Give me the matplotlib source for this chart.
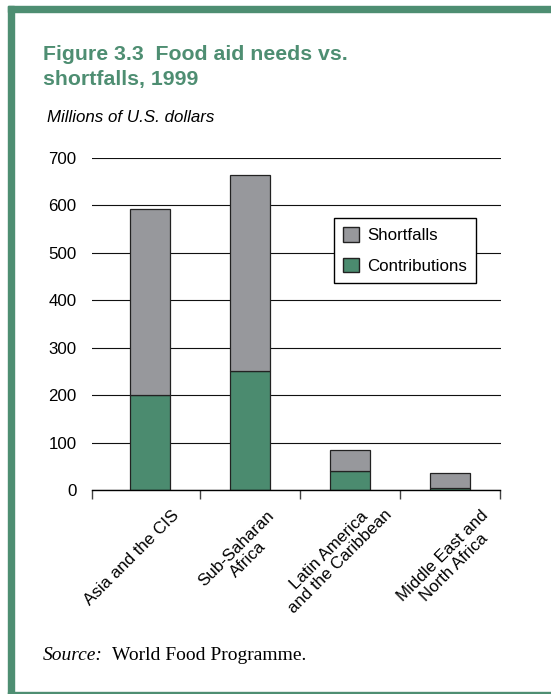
import matplotlib.pyplot as plt
from matplotlib.patches import Rectangle, Patch
from matplotlib.transforms import ScaledTranslation

regions = ['Asia and the CIS', 'Sub-Saharan\nAfrica',
           'Latin America\nand the Caribbean', 'Middle East and\nNorth Africa']
contributions = [200, 250, 40, 5]
shortfalls = [393, 415, 45, 30]

GREEN = '#4e8e72'
BAR_GREEN = '#4b8b6f'
GRAY = '#97989c'

plt.rcParams['font.family'] = ['Liberation Sans', 'DejaVu Sans']

W, H = 551, 694
fig = plt.figure(figsize=(W / 100, H / 100), dpi=100)

# green frame
fig.patches.append(Rectangle((8 / W, 0), 6 / W, (H - 6) / H, transform=fig.transFigure,
                             color=GREEN, zorder=0))
fig.patches.append(Rectangle((8 / W, (H - 12) / H), (W - 8) / W, 6 / H,
                             transform=fig.transFigure, color=GREEN, zorder=0))
fig.patches.append(Rectangle((8 / W, 0), (W - 8) / W, 2.5 / H,
                             transform=fig.transFigure, color=GREEN, zorder=0))

fig.text(43 / W, 1 - 60 / H, 'Figure 3.3  Food aid needs vs.', color=GREEN,
         fontsize=15.3, fontweight='bold', va='baseline', ha='left')
fig.text(43 / W, 1 - 85 / H, 'shortfalls, 1999', color=GREEN,
         fontsize=15.3, fontweight='bold', va='baseline', ha='left')
fig.text(47 / W, 1 - 117 / H, 'Millions of U.S. dollars', fontsize=12.2,
         style='italic', va='center', ha='left')
fig.text(43 / W, 1 - 660 / H, 'Source:', fontsize=14, style='italic',
         family='Liberation Serif', va='baseline', ha='left')
fig.text(112 / W, 1 - 660 / H, 'World Food Programme.', fontsize=14,
         family='Liberation Serif', va='baseline', ha='left')

ax = fig.add_axes([92 / W, (H - 490) / H, 408.5 / W, 332 / H])
x = range(len(regions))
ax.bar(x, contributions, width=0.4, color=BAR_GREEN, edgecolor='#222222',
       linewidth=0.9, zorder=2)
ax.bar(x, shortfalls, bottom=contributions, width=0.4, color=GRAY,
       edgecolor='#222222', linewidth=0.9, zorder=2)

ax.set_xlim(-0.575, 3.5)
ax.set_ylim(0, 700)
ax.set_yticks(range(0, 701, 100))
ax.yaxis.grid(True, color='#111111', linewidth=0.8)
ax.set_axisbelow(True)
for s in ['top', 'right', 'left']:
    ax.spines[s].set_visible(False)
ax.spines['bottom'].set_linewidth(1.0)
ax.tick_params(axis='y', length=0, pad=11, labelsize=12.2)
ax.set_xticks([-0.575, 0.5, 1.5, 2.5, 3.5])
ax.set_xticklabels([])
ax.tick_params(axis='x', length=6.5, width=1, color='#444444')

# rotated category labels, anchored at the top-right of each text block
label_dx = [22, 17, 23, 30]
label_dy = [-18, -18, -6, -18]
for i, name in enumerate(regions):
    off = ScaledTranslation(label_dx[i] / 100, label_dy[i] / 100, fig.dpi_scale_trans)
    ax.text(i, 0, name, transform=ax.get_xaxis_transform() + off,
            rotation=45, rotation_mode='anchor', ha='right', va='top',
            multialignment='center', fontsize=12.2, linespacing=1.05)

handles = [Patch(facecolor=GRAY, edgecolor='#222222', label='Shortfalls'),
           Patch(facecolor=BAR_GREEN, edgecolor='#222222', label='Contributions')]
leg = fig.legend(handles=handles, loc='upper left', borderaxespad=0,
                 bbox_to_anchor=(334 / W, 1 - 218 / H), fontsize=12.2,
                 frameon=True, fancybox=False, framealpha=1, edgecolor='black',
                 handlelength=0.95, handleheight=0.95, handletextpad=0.45,
                 labelspacing=0.85, borderpad=0.55)
leg.get_frame().set_linewidth(1.0)

fig.savefig('out.png', dpi=100)
